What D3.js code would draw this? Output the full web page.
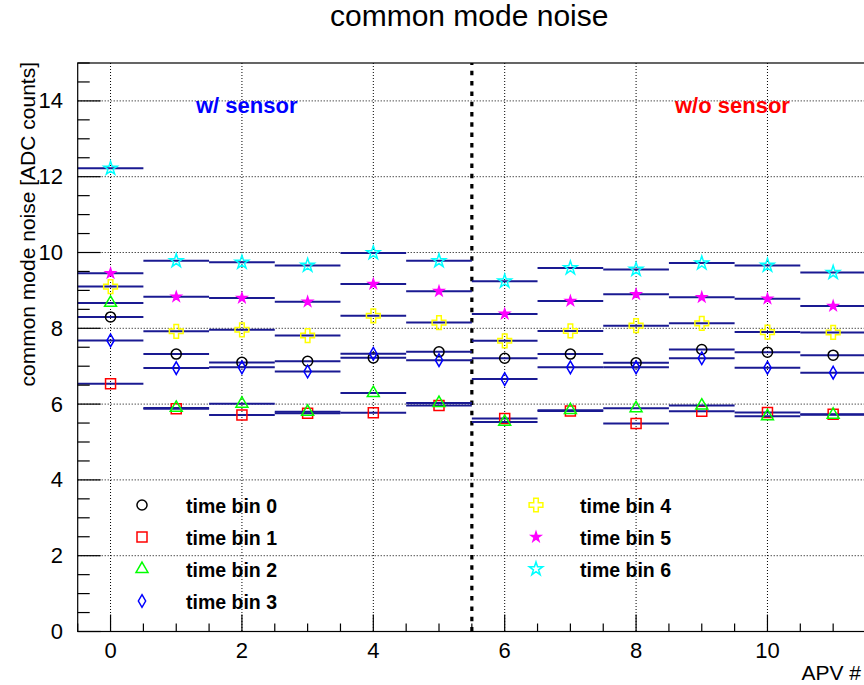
<!DOCTYPE html>
<html>
<head>
<meta charset="utf-8">
<script src="https://cdn.jsdelivr.net/npm/d3@7"></script>
<style>
  body { margin: 0; background: #fff; }
  svg { display: block; font-family: "Liberation Sans", Arial, Helvetica, sans-serif; }
</style>
</head>
<body>
<svg id="chart" width="864" height="685"></svg>
<script>
// APV number (bin centre)
const apv = [0, 1, 2, 3, 4, 5, 6, 7, 8, 9, 10, 11];

// common mode noise per time bin [ADC counts]
const timeBin0 = [8.30, 7.32, 7.10, 7.13, 7.22, 7.38, 7.21, 7.32, 7.09, 7.44, 7.37, 7.29];
const timeBin1 = [6.54, 5.88, 5.71, 5.76, 5.77, 5.96, 5.62, 5.82, 5.49, 5.81, 5.78, 5.73];
const timeBin2 = [8.67, 5.90, 6.01, 5.80, 6.29, 6.03, 5.53, 5.84, 5.89, 5.96, 5.68, 5.72];
const timeBin3 = [7.68, 6.95, 6.97, 6.86, 7.33, 7.16, 6.66, 6.97, 6.97, 7.21, 6.96, 6.83];
const timeBin4 = [9.10, 7.92, 7.96, 7.81, 8.33, 8.15, 7.67, 7.93, 8.07, 8.13, 7.90, 7.89];
const timeBin5 = [9.45, 8.83, 8.80, 8.70, 9.17, 8.98, 8.38, 8.72, 8.90, 8.82, 8.78, 8.59];
const timeBin6 = [12.22, 9.78, 9.74, 9.66, 9.99, 9.78, 9.24, 9.59, 9.55, 9.72, 9.66, 9.47];

const seriesNames = ["time bin 0", "time bin 1", "time bin 2", "time bin 3", "time bin 4", "time bin 5", "time bin 6"];
const xTicks = [0, 2, 4, 6, 8, 10];
const yTicks = [0, 2, 4, 6, 8, 10, 12, 14];
const sensorBoundary = 5.5;

const markers = [
  { type: d3.symbolCircle, size: 80, color: "#000000", fill: "none" },
  { type: d3.symbolSquare, size: 100, color: "#ff0000", fill: "none" },
  { type: d3.symbolTriangle, size: 62, color: "#00ff00", fill: "none" },
  { type: d3.symbolDiamond, size: 46, color: "#0000ff", fill: "none" },
  { type: d3.symbolCross, size: 105, color: "#ffff00", fill: "none" },
  { type: d3.symbolStar, size: 28, color: "#ff00ff", fill: "#ff00ff" },
  { type: d3.symbolStar, size: 56, color: "#00ffff", fill: "none" }
];
const allSeries = [timeBin0, timeBin1, timeBin2, timeBin3, timeBin4, timeBin5, timeBin6];

const svg = d3.select("#chart");
const frameLeft = 77.7, frameRight = 866, frameTop = 63, frameBottom = 631.5;

const x = d3.scaleLinear().domain([-0.5, 11.5]).range([frameLeft, frameRight]);
const y = d3.scaleLinear().domain([0, 15]).range([frameBottom, frameTop]);

// grid
const grid = svg.append("g").attr("stroke", "#000").attr("stroke-width", 1).attr("stroke-dasharray", "1,2");
grid.selectAll(".gx").data(xTicks).join("line")
  .attr("x1", d => x(d)).attr("x2", d => x(d)).attr("y1", frameTop).attr("y2", frameBottom);
grid.selectAll(".gy").data(yTicks.filter(d => d > 0)).join("line")
  .attr("x1", frameLeft).attr("x2", frameRight).attr("y1", d => y(d)).attr("y2", d => y(d));

// sensor boundary
svg.append("line")
  .attr("x1", x(sensorBoundary)).attr("x2", x(sensorBoundary))
  .attr("y1", y(0)).attr("y2", y(15))
  .attr("stroke", "#000").attr("stroke-width", 3.2).attr("stroke-dasharray", "4.5,5.8");

// data: horizontal bin widths then markers
allSeries.forEach((vals, i) => {
  const m = markers[i];
  const g = svg.append("g");
  g.selectAll("line").data(vals).join("line")
    .attr("x1", (d, j) => x(apv[j] - 0.5)).attr("x2", (d, j) => x(apv[j] + 0.5))
    .attr("y1", d => y(d)).attr("y2", d => y(d))
    .attr("stroke", "#1a1a92").attr("stroke-width", 2);
  g.selectAll("path").data(vals).join("path")
    .attr("d", d3.symbol().type(m.type).size(m.size))
    .attr("transform", (d, j) => `translate(${x(apv[j])},${y(d)})`)
    .attr("fill", m.fill).attr("stroke", m.color).attr("stroke-width", 1.5);
});

// frame
svg.append("rect")
  .attr("x", frameLeft).attr("y", frameTop)
  .attr("width", frameRight - frameLeft).attr("height", frameBottom - frameTop)
  .attr("fill", "none").attr("stroke", "#000").attr("stroke-width", 1.2);

// ticks
const axes = svg.append("g").attr("stroke", "#000").attr("stroke-width", 1.2);
const minor = d3.range(-0.5, 11.51, 0.5);
axes.selectAll(".tx").data(minor).join("line")
  .attr("x1", d => x(d)).attr("x2", d => x(d))
  .attr("y1", frameBottom).attr("y2", d => frameBottom - (d % 2 === 0 ? 17 : 8));
const minorY = d3.range(0, 15.01, 0.5);
axes.selectAll(".ty").data(minorY).join("line")
  .attr("y1", d => y(d)).attr("y2", d => y(d))
  .attr("x1", frameLeft).attr("x2", d => frameLeft + (d % 2 === 0 ? 23 : 12));

// tick labels
svg.append("g").selectAll("text").data(xTicks).join("text")
  .attr("x", d => x(d)).attr("y", 658)
  .attr("text-anchor", "middle").attr("font-size", 22).text(d => d);
svg.append("g").selectAll("text").data(yTicks).join("text")
  .attr("x", 63).attr("y", d => y(d) + 7.5)
  .attr("text-anchor", "end").attr("font-size", 22).text(d => d);

// titles
svg.append("text").attr("x", 330).attr("y", 26).attr("font-size", 30).text("common mode noise");
svg.append("text").attr("transform", `translate(35,${frameTop - 1}) rotate(-90)`)
  .attr("text-anchor", "end").attr("font-size", 21).text("common mode noise [ADC counts]");
svg.append("text").attr("x", 861).attr("y", 680).attr("text-anchor", "end")
  .attr("font-size", 21).text("APV #");

svg.append("text").attr("x", 196).attr("y", 113).attr("font-size", 22).attr("font-weight", "bold")
  .attr("fill", "#0000ff").text("w/ sensor");
svg.append("text").attr("x", 675).attr("y", 113).attr("font-size", 22).attr("font-weight", "bold")
  .attr("fill", "#ff0000").text("w/o sensor");

// legend
const legendPos = [
  [142, 505], [142, 537], [142, 569], [142, 601],
  [536, 505], [536, 537], [536, 569]
];
const legend = svg.append("g");
seriesNames.forEach((name, i) => {
  const m = markers[i];
  const [lx, ly] = legendPos[i];
  legend.append("path")
    .attr("d", d3.symbol().type(m.type).size(m.size)())
    .attr("transform", `translate(${lx},${ly})`)
    .attr("fill", m.fill).attr("stroke", m.color).attr("stroke-width", 1.5);
  legend.append("text").attr("x", lx + 44).attr("y", ly + 7.5)
    .attr("font-size", 19.5).attr("font-weight", "bold").text(name);
});
</script>
</body>
</html>
